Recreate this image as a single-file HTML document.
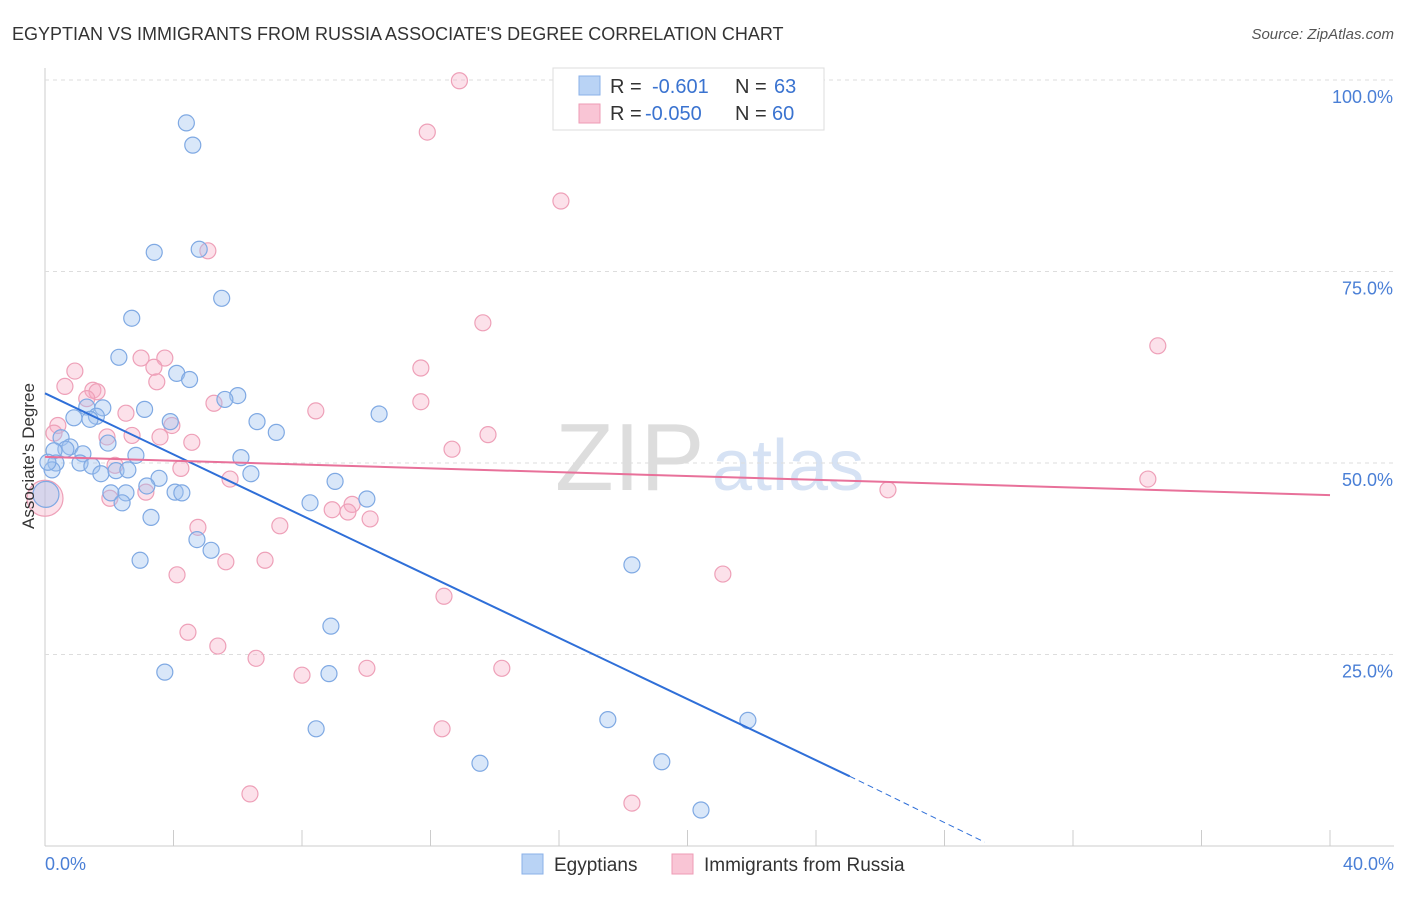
<!DOCTYPE html>
<html><head><meta charset="utf-8"><style>
body{margin:0;background:#fff;font-family:"Liberation Sans",sans-serif;}
svg text{font-family:"Liberation Sans",sans-serif;}
</style></head><body>
<svg id="c" width="1406" height="892" xmlns="http://www.w3.org/2000/svg">
<text x="12" y="40" font-size="18" fill="#333">EGYPTIAN VS IMMIGRANTS FROM RUSSIA ASSOCIATE'S DEGREE CORRELATION CHART</text>
<text x="1394" y="39" font-size="15" fill="#555" font-style="italic" text-anchor="end">Source: ZipAtlas.com</text>
<text x="555" y="490" font-size="96" fill="#ddd" font-family="Liberation Serif">ZIP</text>
<text x="712" y="490" font-size="72" fill="#d6e2f4">atlas</text>
<g id="grid"></g><g id="pts"></g><g id="lines"></g>
<text x="34" y="456" font-size="17" fill="#333" text-anchor="middle" transform="rotate(-90 34 456)">Associate's Degree</text>
<text x="45" y="870" font-size="18" fill="#4a7fd6">0.0%</text>
<text x="1394" y="870" font-size="18" fill="#4a7fd6" text-anchor="end">40.0%</text>
<g>
<rect x="553" y="68" width="271" height="62" fill="#fff" stroke="#ddd"/>
<rect x="579" y="76" width="21" height="19" fill="#b9d3f5" stroke="#8ab0e8"/>
<rect x="579" y="104" width="21" height="19" fill="#f9c5d5" stroke="#ee9bb5"/>
<text x="610" y="93" font-size="20" fill="#333">R =</text><text x="652" y="93" font-size="20" fill="#3a73d0">-0.601</text>
<text x="735" y="93" font-size="20" fill="#333">N =</text><text x="774" y="93" font-size="20" fill="#3a73d0">63</text>
<text x="610" y="120" font-size="20" fill="#333">R =</text><text x="645" y="120" font-size="20" fill="#3a73d0">-0.050</text>
<text x="735" y="120" font-size="20" fill="#333">N =</text><text x="772" y="120" font-size="20" fill="#3a73d0">60</text>
</g>
<g>
<rect x="522" y="854" width="21" height="20" fill="#b9d3f5" stroke="#8ab0e8"/>
<text x="554" y="871" font-size="19" fill="#333">Egyptians</text>
<rect x="672" y="854" width="21" height="20" fill="#f9c5d5" stroke="#ee9bb5"/>
<text x="704" y="871" font-size="19" fill="#333">Immigrants from Russia</text>
</g>
</svg>
<script>
const blueX=[4.4,4.6,3.4,4.8,5.5,2.7,2.3,4.1,4.5,6.0,5.6,3.1,1.3,1.8,1.6,1.4,3.9,6.6,10.4,7.2,1.96,0.5,0.78,0.65,0.28,1.18,2.83,6.1,0.34,1.09,1.46,1.74,2.21,2.58,6.41,3.55,0.22,9.03,3.17,4.05,4.26,2.05,2.52,8.25,10.02,2.4,3.3,4.73,5.17,2.96,18.27,8.9,3.73,8.84,8.44,17.52,21.88,13.54,19.2,20.42,0.03,0.09,0.9];
const blueY=[94.4,91.5,77.5,77.9,71.5,68.9,63.8,61.7,60.9,58.8,58.3,57.0,57.3,57.2,56.1,55.7,55.4,55.4,56.4,54.0,52.6,53.3,52.1,51.8,51.6,51.2,51.0,50.7,50.0,50.0,49.6,48.6,49.0,49.1,48.6,48.0,49.1,47.6,47.0,46.2,46.1,46.1,46.1,44.8,45.3,44.8,42.9,40.0,38.6,37.3,36.7,28.7,22.7,22.5,15.3,16.5,16.4,10.8,11.0,4.7,45.9,50.1,55.9];
const pinkX=[12.9,11.9,16.06,5.07,13.63,34.64,11.7,0.93,3.73,2.99,3.39,3.48,0.62,1.49,1.62,1.3,11.7,5.26,8.43,2.52,0.4,3.95,0.28,1.93,2.71,3.58,13.79,4.57,12.67,2.18,4.23,5.76,34.33,26.24,3.14,2.02,9.56,8.94,9.43,10.12,4.76,7.31,5.63,6.85,4.11,21.1,12.42,4.45,5.38,6.57,8.0,10.02,14.22,12.36,6.38,18.27,0.0];
const pinkY=[99.9,93.2,84.2,77.7,68.3,65.3,62.4,62.0,63.7,63.7,62.5,60.6,60.0,59.5,59.3,58.4,58.0,57.8,56.8,56.5,54.9,54.9,53.9,53.4,53.6,53.4,53.7,52.7,51.8,49.7,49.3,47.9,47.9,46.5,46.2,45.4,44.6,43.9,43.6,42.7,41.6,41.8,37.1,37.3,35.4,35.5,32.6,27.9,26.1,24.5,22.3,23.2,23.2,15.3,6.8,5.6,45.4];
const blueLine=[[0,59.1],[25.05,9.1],[29.25,0.5]];
const pinkLine=[[0,50.8],[40,45.8]];
const yTicks=[25,50,75,100];
const X=v=>45+v/40*1285, Y=v=>846-v*7.66;
const NS="http://www.w3.org/2000/svg";
function mk(t,a,p){const e=document.createElementNS(NS,t);for(const k in a)e.setAttribute(k,a[k]);p.appendChild(e);return e;}
const g=document.getElementById('grid');
let ax=mk('line',{x1:45,y1:68,x2:45,y2:846,stroke:'#ccc'},g);


let bx=mk('line',{x1:45,y1:846,x2:1394,y2:846,stroke:'#ccc'},g);


for(let i=1;i<=10;i++){const x=45+i*128.5;let t=mk('line',{x1:x,y1:830,x2:x,y2:846,stroke:'#ccc'},g);

}
yTicks.forEach(v=>{let l=mk('line',{x1:45,y1:Y(v),x2:1394,y2:Y(v),stroke:'#ddd','stroke-dasharray':'4,4'},g);


let t=mk('text',{x:1393,y:Y(v)+23,'font-size':18,fill:'#4a7fd6','text-anchor':'end'},g);t.textContent=v.toFixed(1)+'%';

});
const p=document.getElementById('pts');
pinkX.forEach((x,i)=>{let c=mk('circle',{cx:X(x),cy:Y(pinkY[i]),r:i==pinkX.length-1?18:8,fill:'rgba(246,170,195,0.35)',stroke:'#eea0b8','stroke-width':1.2},p);

});
blueX.forEach((x,i)=>{let c=mk('circle',{cx:X(x),cy:Y(blueY[i]),r:i==60?13:8,fill:'rgba(160,195,240,0.4)',stroke:'#7fa9e3','stroke-width':1.2},p);

});
const L=document.getElementById('lines');
let b1=mk('line',{x1:X(blueLine[0][0]),y1:Y(blueLine[0][1]),x2:X(blueLine[1][0]),y2:Y(blueLine[1][1]),stroke:'#2f6fd8','stroke-width':2},L);


let b2=mk('line',{x1:X(blueLine[1][0]),y1:Y(blueLine[1][1]),x2:X(blueLine[2][0]),y2:Y(blueLine[2][1]),stroke:'#2f6fd8','stroke-width':1,'stroke-dasharray':'6,4'},L);


let pl=mk('line',{x1:X(pinkLine[0][0]),y1:Y(pinkLine[0][1]),x2:X(pinkLine[1][0]),y2:Y(pinkLine[1][1]),stroke:'#e8719a','stroke-width':2},L);


</script>
</body></html>
